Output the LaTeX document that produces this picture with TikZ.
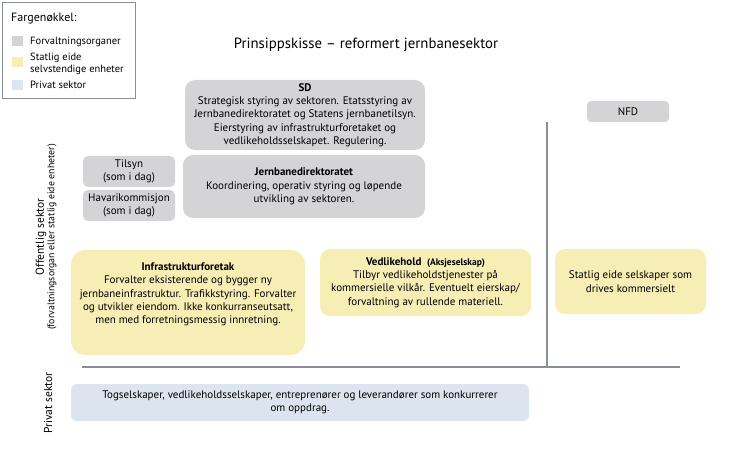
\documentclass[tikz,border=0pt]{standalone}
\usepackage{fontspec}
\setmainfont{PT Sans}
\definecolor{forvgrey}{HTML}{D4D4D7}
\definecolor{statyellow}{HTML}{F7EEB6}
\definecolor{privblue}{HTML}{DCE4EF}
\definecolor{linegrey}{HTML}{8A8E95}
\begin{document}
\begin{tikzpicture}[x=1pt,y=-1pt,
    box/.style={anchor=center,rounded corners=10pt,align=center,inner sep=1pt,
        font=\fontsize{11}{13.3}\selectfont},
    forv/.style={box,fill=forvgrey},
    stat/.style={box,fill=statyellow},
    priv/.style={box,fill=privblue},
    swatch/.style={fill=#1,minimum width=11pt,minimum height=10pt,inner sep=0pt},
    keytext/.style={anchor=west,align=left,inner sep=0pt,font=\fontsize{10.5}{11.5}\selectfont},
    sektor/.style={rotate=90,anchor=center,align=center,inner sep=0pt}]
    \useasboundingbox (0,0) rectangle (730,454);
    %% colour key
    \draw[linegrey,line width=0.8pt] (2,2) rectangle (135,98);
    \node[anchor=west,inner sep=0pt,font=\fontsize{12}{14}\selectfont] (key) at (11,19) {Fargenøkkel:};
    \node[swatch=forvgrey] (k1) at (17.5,41.5) {};
    \node[keytext] at (30,41.5) {Forvaltningsorganer};
    \node[swatch=statyellow] (k2) at (17.5,62.5) {};
    \node[keytext] at (30,64) {Statlig eide\\selvstendige enheter};
    \node[swatch=privblue] (k3) at (17.5,85) {};
    \node[keytext] at (30,85) {Privat sektor};
    %% title
    \node[anchor=center,font=\fontsize{14.8}{17}\selectfont] (title) at (366,45) {Prinsippskisse – reformert jernbanesektor};
    %% government
    \node[forv,minimum width=240pt,minimum height=70pt] (SD) at (305,115)
        {\textbf{SD}\\Strategisk styring av sektoren. Etatsstyring av\\Jernbanedirektoratet og Statens jernbanetilsyn.\\Eierstyring av infrastrukturforetaket og\\vedlikeholdsselskapet. Regulering.};
    \node[forv,minimum width=242pt,minimum height=63pt] (JD) at (304,186.5)
        {\textbf{Jernbanedirektoratet}\\Koordinering, operativ styring og løpende\\utvikling av sektoren.};
    \node[forv,rounded corners=5pt,minimum width=92pt,minimum height=31pt] (tilsyn) at (129,171.5)
        {Tilsyn\\(som i dag)};
    \node[forv,rounded corners=5pt,minimum width=92pt,minimum height=31pt] (havari) at (129,205.5)
        {Havarikommisjon\\(som i dag)};
    \node[forv,rounded corners=4pt,minimum width=82pt,minimum height=21pt] (NFD) at (628,111.5) {NFD};
    %% state owned
    \node[stat,rounded corners=14pt,minimum width=234pt,minimum height=105pt] (infra) at (188,302.5)
        {\textbf{Infrastrukturforetak}\\Forvalter eksisterende og bygger ny\\jernbaneinfrastruktur. Trafikkstyring. Forvalter\\og utvikler eiendom. Ikke konkurranseutsatt,\\men med forretningsmessig innretning.\\[5pt]};
    \node[stat,minimum width=211pt,minimum height=67pt] (vedl) at (425.5,282.5)
        {\textbf{Vedlikehold}\enspace{\fontsize{9.5}{11}\selectfont\textbf{(Aksjeselskap)}}\\Tilbyr vedlikeholdstjenester på\\kommersielle vilkår. Eventuelt eierskap/\\forvaltning av rullende materiell.};
    \node[stat,minimum width=151pt,minimum height=65pt] (komm) at (630.5,281.5)
        {Statlig eide selskaper som\\drives kommersielt};
    %% private
    \node[priv,rounded corners=6pt,minimum width=458pt,minimum height=37pt] (togsel) at (300,402.5)
        {Togselskaper, vedlikeholdsselskaper, entreprenører og leverandører som konkurrerer\\om oppdrag.};
    %% divider lines
    \coordinate (vtop) at (547,122);
    \coordinate (vbot) at (547,367);
    \coordinate (hleft) at (82,367);
    \coordinate (hright) at (680,367);
    \draw[linegrey,line width=1.2pt] (vtop) -- (vbot);
    \draw[linegrey,line width=1.4pt] (hleft) -- (hright);
    %% sector labels
    \node[sektor,font=\fontsize{11.5}{12}\selectfont] (off) at (41,237) {Offentlig sektor};
    \node[sektor,font=\fontsize{9.8}{11}\selectfont] (offsub) at (52,237) {(forvaltningsorgan eller statlig eide enheter)};
    \node[sektor,font=\fontsize{11.5}{12}\selectfont] (privsek) at (48,403) {Privat sektor};
\end{tikzpicture}
\end{document}
